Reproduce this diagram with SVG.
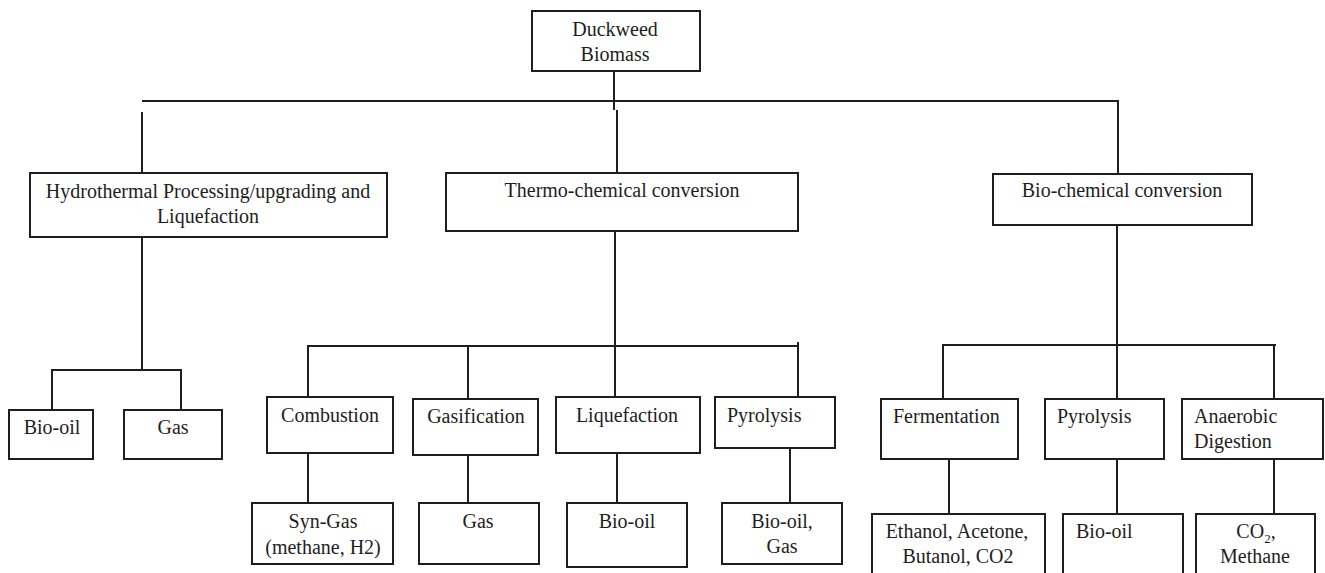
<svg xmlns="http://www.w3.org/2000/svg" width="1325" height="573" viewBox="0 0 1325 573">
<style>
.box{fill:#fff;stroke:#1e1e1e;stroke-width:2}
.ln{fill:none;stroke:#1e1e1e;stroke-width:2}
text{font-family:"Liberation Serif","Times New Roman",serif;font-size:20px;fill:#1e1e1e}
.c{text-anchor:middle}
</style>
<rect width="1325" height="573" fill="#fff"/>
<g id="connectors">
<path class="ln" d="M614 71V110M617 110V173"/>
<path class="ln" d="M142 101H1118V174"/>
<path class="ln" d="M142 112V173"/>
<path class="ln" d="M142 237V370M52 410V370H181V410"/>
<path class="ln" d="M615 231V346M308 397V346H798M798 342V397M468 346V399M615 346V397"/>
<path class="ln" d="M308 453V503M468 453V503M617 453V503M790 448V503"/>
<path class="ln" d="M1117 225V399M943 399V345H1276M1274 345V399"/>
<path class="ln" d="M949 459V514M1117 459V514M1274 459V514"/>
</g>
<g id="duckweed"><rect class="box" x="532" y="11" width="168" height="60"/><text class="c" x="615" y="36">Duckweed</text><text class="c" x="615" y="61">Biomass</text></g>
<g id="hydrothermal"><rect class="box" x="30" y="173" width="357" height="64"/><text class="c" x="208" y="198">Hydrothermal Processing/upgrading and</text><text class="c" x="208" y="223">Liquefaction</text></g>
<g id="thermo"><rect class="box" x="446" y="173" width="352" height="58"/><text class="c" x="622" y="197">Thermo-chemical conversion</text></g>
<g id="biochem"><rect class="box" x="993" y="174" width="259" height="51"/><text class="c" x="1122" y="197">Bio-chemical conversion</text></g>
<g id="bio-oil-1"><rect class="box" x="9" y="410" width="84" height="49"/><text class="c" x="52" y="434">Bio-oil</text></g>
<g id="gas-1"><rect class="box" x="124" y="410" width="98" height="49"/><text class="c" x="173" y="434">Gas</text></g>
<g id="combustion"><rect class="box" x="267" y="397" width="126" height="56"/><text class="c" x="330" y="422">Combustion</text></g>
<g id="gasification"><rect class="box" x="413" y="399" width="125" height="56"/><text class="c" x="476" y="423">Gasification</text></g>
<g id="liquefaction"><rect class="box" x="556" y="397" width="144" height="56"/><text class="c" x="627" y="422">Liquefaction</text></g>
<g id="pyrolysis-1"><rect class="box" x="715" y="397" width="120" height="51"/><text x="727" y="422">Pyrolysis</text></g>
<g id="syngas"><rect class="box" x="252" y="503" width="141" height="61"/><text class="c" x="323" y="528">Syn-Gas</text><text class="c" x="323" y="554">(methane, H2)</text></g>
<g id="gas-2"><rect class="box" x="419" y="503" width="120" height="61"/><text class="c" x="478" y="528">Gas</text></g>
<g id="bio-oil-2"><rect class="box" x="567" y="503" width="120" height="64"/><text class="c" x="627" y="528">Bio-oil</text></g>
<g id="bio-oil-gas"><rect class="box" x="722" y="503" width="120" height="61"/><text class="c" x="782" y="528">Bio-oil,</text><text class="c" x="782" y="553">Gas</text></g>
<g id="fermentation"><rect class="box" x="881" y="399" width="137" height="60"/><text x="893" y="423">Fermentation</text></g>
<g id="pyrolysis-2"><rect class="box" x="1045" y="399" width="119" height="60"/><text x="1057" y="423">Pyrolysis</text></g>
<g id="anaerobic"><rect class="box" x="1182" y="399" width="141" height="60"/><text x="1194" y="423">Anaerobic</text><text x="1194" y="448">Digestion</text></g>
<g id="ethanol"><rect class="box" x="872" y="514" width="173" height="70"/><text class="c" x="957" y="538">Ethanol, Acetone,</text><text class="c" x="958" y="563">Butanol, CO2</text></g>
<g id="bio-oil-3"><rect class="box" x="1063" y="514" width="120" height="70"/><text x="1076" y="538">Bio-oil</text></g>
<g id="co2"><rect class="box" x="1196" y="514" width="119" height="70"/><text class="c" x="1256" y="538">CO<tspan font-size="13" dy="5">2</tspan><tspan dy="-5">,</tspan></text><text class="c" x="1255" y="563">Methane</text></g>
</svg>
